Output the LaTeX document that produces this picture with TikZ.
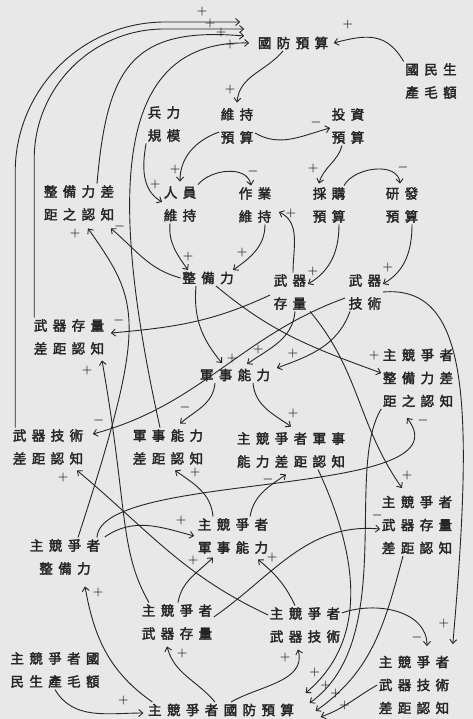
\documentclass[tikz,border=0pt]{standalone}
\usepackage{fontspec}
\newfontfamily\cjk[LetterSpace=40,FakeBold=2.5]{Noto Sans CJK TC}
\usetikzlibrary{arrows.meta}
\definecolor{ink}{HTML}{262626}
\definecolor{paper}{HTML}{E8E8E8}

\begin{document}
\begin{tikzpicture}[x=1pt,y=1pt,
	lbl/.style={font=\cjk\fontsize{13.5}{23}\selectfont,align=center,inner sep=1.5pt,text=ink},
	flow/.style={draw=ink,line width=.9pt,-{Straight Barb[length=4pt,width=7pt]}},
	sgn/.style={font=\fontsize{11.5}{11.5}\selectfont\boldmath,text=ink,inner sep=0pt}]
\useasboundingbox (0,0) rectangle (473,-719);
\fill[paper] (0,0) rectangle (473,-719);

\node[lbl] (def) at (293,-43) {國防預算};
\node[lbl] (gnp) at (431,-81) {國民生\\產毛額};
\node[lbl] (force) at (164,-124) {兵力\\規模};
\node[lbl] (upkeep) at (237,-126) {維持\\預算};
\node[lbl] (invest) at (348,-126) {投資\\預算};
\node[lbl] (staff) at (180,-204) {人員\\維持};
\node[lbl] (ops) at (255,-205) {作業\\維持};
\node[lbl] (buy) at (329,-205) {採購\\預算};
\node[lbl] (rnd) at (402,-205) {研發\\預算};
\node[lbl] (rgap) at (79,-203) {整備力差\\距之認知};
\node[lbl] (ready) at (208,-278) {整備力};
\node[lbl] (stock) at (290,-292) {武器\\存量};
\node[lbl] (tech) at (365,-292) {武器\\技術};
\node[lbl] (sgap) at (69,-337) {武器存量\\差距認知};
\node[lbl] (crgap) at (418,-378) {主競爭者\\整備力差\\距之認知};
\node[lbl] (mil) at (235,-375) {軍事能力};
\node[lbl] (tgap) at (48,-447) {武器技術\\差距認知};
\node[lbl] (mgap) at (168,-447) {軍事能力\\差距認知};
\node[lbl] (cmgap) at (291,-450) {主競爭者軍事\\能力差距認知};
\node[lbl] (csgap) at (417,-525) {主競爭者\\武器存量\\差距認知};
\node[lbl] (cmil) at (233,-536) {主競爭者\\軍事能力};
\node[lbl] (cready) at (65,-557) {主競爭者\\整備力};
\node[lbl] (cstock) at (177,-622) {主競爭者\\武器存量};
\node[lbl] (ctech) at (305,-625) {主競爭者\\武器技術};
\node[lbl] (cgnp) at (55,-670) {主競爭者國\\民生產毛額};
\node[lbl] (cdef) at (221,-710) {主競爭者國防預算};
\node[lbl] (ctgap) at (414,-685) {主競爭者\\武器技術\\差距認知};

\draw[flow,rounded corners=150pt] ([xshift=4pt]tgap.north west) |- ([xshift=-16pt,yshift=21pt]def.west) node[sgn,at end,xshift=-38pt,yshift=10pt]{$+$};
\draw[flow,rounded corners=130pt] ([xshift=2pt]sgap.north west) |- ([xshift=-12pt,yshift=14pt]def.west) node[sgn,at end,xshift=-34pt,yshift=5pt]{$+$};
\draw[flow] ([xshift=18pt]rgap.north) to[out=85,in=175,looseness=1.4] node[sgn,at end,xshift=-23pt,yshift=3pt]{$+$} ([xshift=-12pt,yshift=7pt]def.west);
\draw[flow] ([xshift=-8pt]mgap.north) .. controls +(-55,248) and +(-130,3) .. ([xshift=-7pt]def.west) node[sgn,at end,xshift=-19pt,yshift=-2pt]{$+$};
\draw[flow] (gnp.north west) to[out=120,in=15,looseness=1.2] node[sgn,at end,xshift=14pt,yshift=18pt]{$+$} ([xshift=4pt]def.east);

\draw[flow] ([xshift=-10pt]def.south) to[out=230,in=85] node[sgn,at end,xshift=-7pt,yshift=13pt]{$+$} ([yshift=4pt]upkeep.north);
\draw[flow] ([yshift=-7pt]upkeep.east) to[out=-30,in=195] node[sgn,at end,xshift=-14pt,yshift=5pt]{$-$} ([yshift=-2pt]invest.west);
\draw[flow] ([yshift=-6pt]upkeep.west) to[out=200,in=90] node[sgn,at end,xshift=-5pt,yshift=12pt]{$+$} ([yshift=3pt]staff.north);
\draw[flow] (force.south west) to[out=260,in=150] node[sgn,at end,xshift=-7pt,yshift=17pt]{$+$} ([yshift=2pt]staff.west);
\draw[flow] (staff.north east) to[out=50,in=100] node[sgn,at end,xshift=2pt,yshift=14pt]{$-$} ([xshift=-4pt]ops.north);
\draw[flow] ([xshift=-6pt]invest.south) to[out=255,in=75] node[sgn,at end,xshift=-6pt,yshift=15pt]{$+$} ([xshift=-10pt,yshift=2pt]buy.north);
\draw[flow] ([xshift=-3pt]buy.north east) to[out=60,in=95] node[sgn,at end,xshift=3pt,yshift=16pt]{$-$} ([xshift=-2pt,yshift=2pt]rnd.north);

\draw[flow] ([xshift=-10pt]staff.south) to[out=265,in=125] node[sgn,at end,xshift=0pt,yshift=14pt]{$+$} ([xshift=-20pt]ready.north);
\draw[flow] ([xshift=10pt]ops.south) to[out=270,in=35] node[sgn,at end,xshift=9pt,yshift=18pt]{$+$} ([xshift=25pt]ready.north);
\draw[flow] ([xshift=3pt]stock.north) to[out=90,in=-25] node[sgn,at end,xshift=12pt,yshift=-1pt]{$+$} ([xshift=6pt,yshift=-7pt]ops.east);
\draw[flow] ([xshift=10pt]buy.south) to[out=270,in=30] node[sgn,at end,xshift=5pt,yshift=13pt]{$+$} ([yshift=8pt]stock.east);
\draw[flow] ([xshift=10pt]rnd.south) to[out=270,in=30] node[sgn,at end,xshift=5pt,yshift=17pt]{$+$} ([yshift=8pt]tech.east);

\draw[flow] ([xshift=-12pt]ready.south) to[out=265,in=130] node[sgn,at end,xshift=10pt,yshift=5pt]{$+$} ([xshift=-13pt,yshift=4pt]mil.north);
\draw[flow] ([xshift=5pt]stock.south) to[out=265,in=35] node[sgn,at end,xshift=11pt,yshift=15pt]{$+$} ([xshift=12pt,yshift=3pt]mil.north);
\draw[flow] ([xshift=-15pt]tech.south) to[out=250,in=20] node[sgn,at end,xshift=16pt,yshift=15pt]{$+$} ([xshift=5pt,yshift=7pt]mil.east);
\draw[flow] (ready.west) to[out=165,in=-40] node[sgn,at end,xshift=9pt,yshift=2pt]{$-$} ([xshift=-5pt,yshift=-6pt]rgap.south east);
\draw[flow] ([xshift=13pt]cready.north) to[out=72,in=-55,out distance=230pt,in distance=90pt] node[sgn,at end,xshift=-13pt,yshift=-5pt]{$+$} ([xshift=9pt,yshift=-6pt]rgap.south);
\draw[flow] ([xshift=-2pt,yshift=-3pt]stock.west) to[out=205,in=5] node[sgn,at end,xshift=8pt,yshift=13pt]{$-$} ([xshift=5pt,yshift=4pt]sgap.east);
\draw[flow] ([xshift=-2pt,yshift=-6pt]tech.west) to[out=200,in=15] node[sgn,at end,xshift=6pt,yshift=14pt]{$-$} ([xshift=8pt,yshift=13pt]tgap.east);
\draw[flow] ([xshift=2pt]stock.south east) to[out=-50,in=125] node[sgn,at end,xshift=5pt,yshift=13pt]{$+$} ([xshift=-15pt,yshift=6pt]csgap.north);
\draw[flow] ([xshift=8pt]ready.south) to[out=-40,in=160] node[sgn,at end,xshift=-7pt,yshift=18pt]{$+$} ([yshift=5pt]crgap.west);

\draw[flow] ([xshift=-20pt]mil.south) to[out=265,in=40] node[sgn,at end,xshift=5pt,yshift=16pt]{$-$} ([xshift=12pt,yshift=4pt]mgap.north);
\draw[flow] ([xshift=18pt]mil.south) to[out=275,in=145] node[sgn,at end,xshift=2pt,yshift=13pt]{$+$} ([yshift=4pt]cmgap.north);
\draw[flow] ([xshift=-20pt]cmil.north) to[out=95,in=-35] node[sgn,at end,xshift=20pt,yshift=-2pt]{$+$} ([xshift=7pt,yshift=-4pt]mgap.south);
\draw[flow] ([xshift=17pt]cmil.north) to[out=80,in=215] node[sgn,at end,xshift=-18pt,yshift=-5pt]{$-$} ([xshift=-5pt,yshift=-5pt]cmgap.south);
\draw[flow] ([xshift=3pt,yshift=20pt]cready.east) to[out=35,in=165] node[sgn,at end,xshift=-13pt,yshift=16pt]{$+$} ([xshift=-2pt]cmil.west);
\draw[flow] ([xshift=32pt]cready.north) .. controls +(3,68) and +(63,-82) .. ([xshift=-11pt,yshift=-9pt]crgap.south) node[sgn,at end,xshift=16pt,yshift=-3pt]{$-$};

\draw[flow] ([xshift=27pt]cmgap.south) to[out=-65,in=40,out distance=100pt,in distance=80pt] node[sgn,at end,xshift=9pt,yshift=21pt]{$+$} ([xshift=10pt,yshift=17pt]cdef.east);
\draw[flow] (crgap.south west) .. controls +(-37,-61) and +(88,63) .. ([xshift=14pt,yshift=7pt]cdef.east) node[sgn,at end,xshift=16pt,yshift=18pt]{$+$};
\draw[flow] ([xshift=-14pt]csgap.south) to[out=255,in=35] node[sgn,at end,xshift=20pt,yshift=18pt]{$+$} ([xshift=20pt,yshift=-1pt]cdef.east);
\draw[flow] (ctgap.west) to[out=210,in=20] node[sgn,at end,xshift=24pt,yshift=12pt]{$+$} ([xshift=25pt,yshift=-7pt]cdef.east);
\draw[flow] (cgnp.south) to[out=-60,in=180] node[sgn,at end,xshift=-20pt,yshift=13pt]{$+$} ([xshift=-3pt,yshift=-3pt]cdef.west);

\draw[flow] ([xshift=6pt]cdef.north west) to[out=145,in=-80] node[sgn,at end,xshift=13pt,yshift=-6pt]{$+$} ([xshift=20pt,yshift=-10pt]cready.south);
\draw[flow] ([xshift=-6pt]cdef.north) to[out=130,in=-75] node[sgn,at end,xshift=15pt,yshift=-7pt]{$+$} ([xshift=-10pt,yshift=-5pt]cstock.south);
\draw[flow] ([xshift=10pt]cdef.north) to[out=30,in=-75] node[sgn,at end,xshift=-13pt,yshift=-8pt]{$+$} ([xshift=-7pt,yshift=-5pt]ctech.south);
\draw[flow] ([xshift=1pt]cstock.north) to[out=80,in=225] node[sgn,at end,xshift=-20pt,yshift=-3pt]{$+$} ([xshift=-20pt,yshift=-2pt]cmil.south);
\draw[flow] ([xshift=-10pt]ctech.north) to[out=115,in=-40] node[sgn,at end,xshift=14pt,yshift=2pt]{$+$} ([xshift=25pt,yshift=-4pt]cmil.south);
\draw[flow] ([yshift=5pt]cstock.east) to[out=35,in=175] node[sgn,at end,xshift=-3pt,yshift=14pt]{$-$} ([yshift=-4pt]csgap.west);
\draw[flow] ([yshift=12pt]ctech.east) to[out=20,in=90] node[sgn,at end,xshift=-10pt,yshift=9pt]{$-$} ([xshift=13pt,yshift=8pt]ctgap.north);
\draw[flow] (tech.east) .. controls +(84,7) and +(22,251) .. ([xshift=2pt,yshift=10pt]ctgap.north east) node[sgn,at end,xshift=-9pt,yshift=21pt]{$+$};
\draw[flow] ([yshift=10pt]ctech.west) to[out=155,in=-40] node[sgn,at end,xshift=-14pt,yshift=-7pt]{$+$} ([xshift=29pt,yshift=-4pt]tgap.south);
\draw[flow] ([xshift=-28pt]cstock.north) .. controls +(-30,52) and +(26,-148) .. ([xshift=33pt,yshift=-4pt]sgap.south) node[sgn,at end,xshift=-15pt,yshift=-10pt]{$+$};
\end{tikzpicture}
\end{document}
